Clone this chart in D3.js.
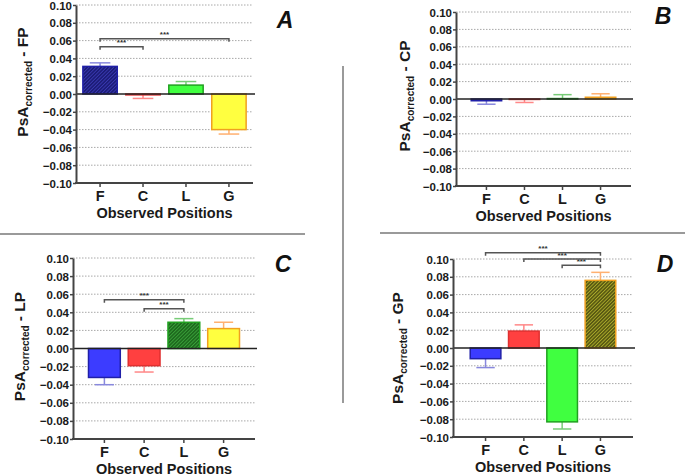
<!DOCTYPE html>
<html><head><meta charset="utf-8">
<script src="https://cdn.jsdelivr.net/npm/d3@7"></script>
<style>body{margin:0;background:#fff}svg{display:block}text{font-family:Arial,"Liberation Sans",sans-serif}</style>
</head><body>
<svg id="c" width="685" height="476"></svg>
<script>
const categories = ["F","C","L","G"];
const yTicks = [0.10,0.08,0.06,0.04,0.02,0.00,-0.02,-0.04,-0.06,-0.08,-0.10];
const panelLetters = ["A","B","C","D"];
const yLabelSuffix = ["FP","CP","LP","GP"];
const highlighted = ["F","C","L","G"];
const valuesA = [0.031,-0.001,0.010,-0.040];
const errorsA = [0.004,0.004,0.004,0.005];
const valuesB = [-0.002,-0.0005,0.0005,0.002];
const errorsB = [0.004,0.0035,0.0045,0.004];
const valuesC = [-0.032,-0.019,0.029,0.022];
const errorsC = [0.008,0.007,0.004,0.007];
const valuesD = [-0.012,0.019,-0.083,0.076];
const errorsD = [0.010,0.007,0.008,0.009];
// significance brackets: [from, to, level]
const sigA = [["F","C",0.053],["F","G",0.062]];
const sigB = [];
const sigC = [["C","L",0.044],["F","L",0.054]];
const sigD = [["L","G",0.093],["C","G",0.100],["F","G",0.107]];

const fills = {F:"#3c3cff",C:"#ff4040",L:"#40ff40",G:"#ffff40"};
const borders = {F:"#2020a8",C:"#e03030",L:"#20a020",G:"#f0a020"};
const errCol = {F:"#8888dd",C:"#ff8888",L:"#77cc77",G:"#ffb070"};
const hatchBg = {F:"#1c1c78",C:"#a02020",L:"#1e6a1e",G:"#5a5a12"};
const hatchLn = {F:"#4848d0",C:"#ff6060",L:"#48c048",G:"#d8d838"};

const svg = d3.select("#c");
const defs = svg.append("defs");
categories.forEach(c=>{
  const p = defs.append("pattern").attr("id","h"+c).attr("patternUnits","userSpaceOnUse")
    .attr("width",2.5).attr("height",2.5).attr("patternTransform","rotate(45)");
  p.append("rect").attr("width",2.5).attr("height",2.5).attr("fill",hatchBg[c]);
  p.append("line").attr("x1",0).attr("y1",0).attr("x2",0).attr("y2",2.5).attr("stroke",hatchLn[c]).attr("stroke-width",1.1);
});

const panels = [
  {vals:valuesA, errs:errorsA, sig:sigA, x0:76, x1:253, po:0.16, top:5, bot:183, lx:28, lyOff:-12, letter:[285,20]},
  {vals:valuesB, errs:errorsB, sig:sigB, x0:456, x1:631, po:0.40, top:12, bot:186, lx:410, lyOff:-3, letter:[663,16]},
  {vals:valuesC, errs:errorsC, sig:sigC, x0:73, x1:255, po:0.39, top:258, bot:439, lx:25, lyOff:-2, letter:[283,264]},
  {vals:valuesD, errs:errorsD, sig:sigD, x0:453, x1:633, po:0.45, top:259, bot:437, lx:403, lyOff:0, letter:[665,264]}
];

// separators
svg.append("line").attr("x1",343).attr("x2",343).attr("y1",66).attr("y2",403).attr("stroke","#9a9a9a").attr("stroke-width",2);
svg.append("line").attr("x1",0).attr("x2",305).attr("y1",234).attr("y2",234).attr("stroke","#9a9a9a").attr("stroke-width",2);
svg.append("line").attr("x1",380).attr("x2",685).attr("y1",233).attr("y2",233).attr("stroke","#9a9a9a").attr("stroke-width",2);

panels.forEach((P,pi)=>{
  const g = svg.append("g");
  const x = d3.scaleBand().domain(categories).range([P.x0,P.x1]).paddingInner(0.2).paddingOuter(P.po);
  const y = d3.scaleLinear().domain([-0.10,0.10]).range([P.bot,P.top]);
  const hl = highlighted[pi];
  // grid
  g.selectAll(".grid").data(yTicks.filter(t=>Math.abs(t)>1e-9 && t>-0.099)).enter().append("line")
    .attr("x1",P.x0).attr("x2",P.x1).attr("y1",d=>y(d)).attr("y2",d=>y(d))
    .attr("stroke","#a8a8a8").attr("stroke-width",1).attr("stroke-dasharray","1.5,1.5");
  const data = categories.map((c,i)=>({c, v:P.vals[i], e:P.errs[i]}));
  // error bars
  data.forEach(d=>{
    const cx = x(d.c)+x.bandwidth()/2;
    const s = d.v>=0?1:-1;
    const ye = y(d.v + s*d.e);
    const cw = x.bandwidth()*0.3;
    g.append("line").attr("x1",cx).attr("x2",cx).attr("y1",y(d.v)).attr("y2",ye).attr("stroke",errCol[d.c]).attr("stroke-width",1.5);
    g.append("line").attr("x1",cx-cw).attr("x2",cx+cw).attr("y1",ye).attr("y2",ye).attr("stroke",errCol[d.c]).attr("stroke-width",1.5);
  });
  g.selectAll(".bar").data(data).enter().append("rect")
    .attr("x",d=>x(d.c)).attr("width",x.bandwidth())
    .attr("y",d=>Math.min(y(d.v),y(0))).attr("height",d=>Math.abs(y(d.v)-y(0)))
    .attr("fill",d=>d.c===hl?"url(#h"+d.c+")":fills[d.c])
    .attr("stroke",d=>borders[d.c]).attr("stroke-width",1.5);
  // zero line
  g.append("line").attr("x1",P.x0).attr("x2",P.x1+2).attr("y1",y(0)).attr("y2",y(0)).attr("stroke","#222").attr("stroke-width",1.5);
  // y axis
  const ya = g.append("g").attr("transform",`translate(${P.x0},0)`)
    .call(d3.axisLeft(y).tickValues(yTicks).tickFormat(d3.format(".2f")).tickSize(3).tickSizeOuter(0));
  ya.select(".domain").attr("stroke","#444").attr("stroke-width",2);
  ya.selectAll(".tick line").attr("stroke","#444").attr("stroke-width",1.5);
  ya.selectAll("text").attr("font-size",11.5).attr("font-weight","bold").attr("fill","#1a1a1a").attr("x",-4).attr("dy","0.35em");
  // x axis
  const xa = g.append("g").attr("transform",`translate(0,${P.bot})`)
    .call(d3.axisBottom(x).tickSize(4).tickSizeOuter(0));
  xa.select(".domain").attr("stroke","#444").attr("stroke-width",2).attr("d",`M${P.x0-1},0H${P.x1}`);
  xa.selectAll(".tick line").attr("stroke","#444").attr("stroke-width",1.5);
  xa.selectAll("text").attr("font-size",14.5).attr("font-weight","bold").attr("fill","#1a1a1a").attr("y",8);
  g.append("text").attr("x",(P.x0+P.x1)/2).attr("y",P.bot+35).attr("text-anchor","middle")
    .attr("font-size",14.5).attr("font-weight","bold").attr("fill","#1a1a1a").text("Observed Positions");
  // y label
  const cy = (P.top+P.bot)/2 + P.lyOff;
  const t = g.append("text").attr("transform",`translate(${P.lx},${cy}) rotate(-90)`).attr("text-anchor","middle")
    .attr("font-weight","bold").attr("fill","#1a1a1a").attr("font-size",15.5);
  t.append("tspan").text("PsA");
  t.append("tspan").attr("font-size",10).attr("dy",4).text("corrected");
  t.append("tspan").attr("dy",-4).text(" - "+yLabelSuffix[pi]);
  // letter
  g.append("text").attr("x",P.letter[0]).attr("y",P.letter[1]+8).attr("text-anchor","middle")
    .attr("font-size",23).attr("font-weight","bold").attr("font-style","italic").attr("fill","#111").text(panelLetters[pi]);
  // significance brackets
  P.sig.forEach(s=>{
    const xa1 = x(s[0])+x.bandwidth()/2, xa2 = x(s[1])+x.bandwidth()/2, yy = y(s[2]);
    g.append("path").attr("d",`M${xa1},${yy+3}V${yy}H${xa2}V${yy+3}`).attr("fill","none").attr("stroke","#555").attr("stroke-width",1.5);
    g.append("text").attr("x",(xa1+xa2)/2).attr("y",yy-1.5).attr("text-anchor","middle").attr("font-size",8).attr("font-weight","bold").attr("fill","#333").text("***");
  });
});
</script>
</body></html>
